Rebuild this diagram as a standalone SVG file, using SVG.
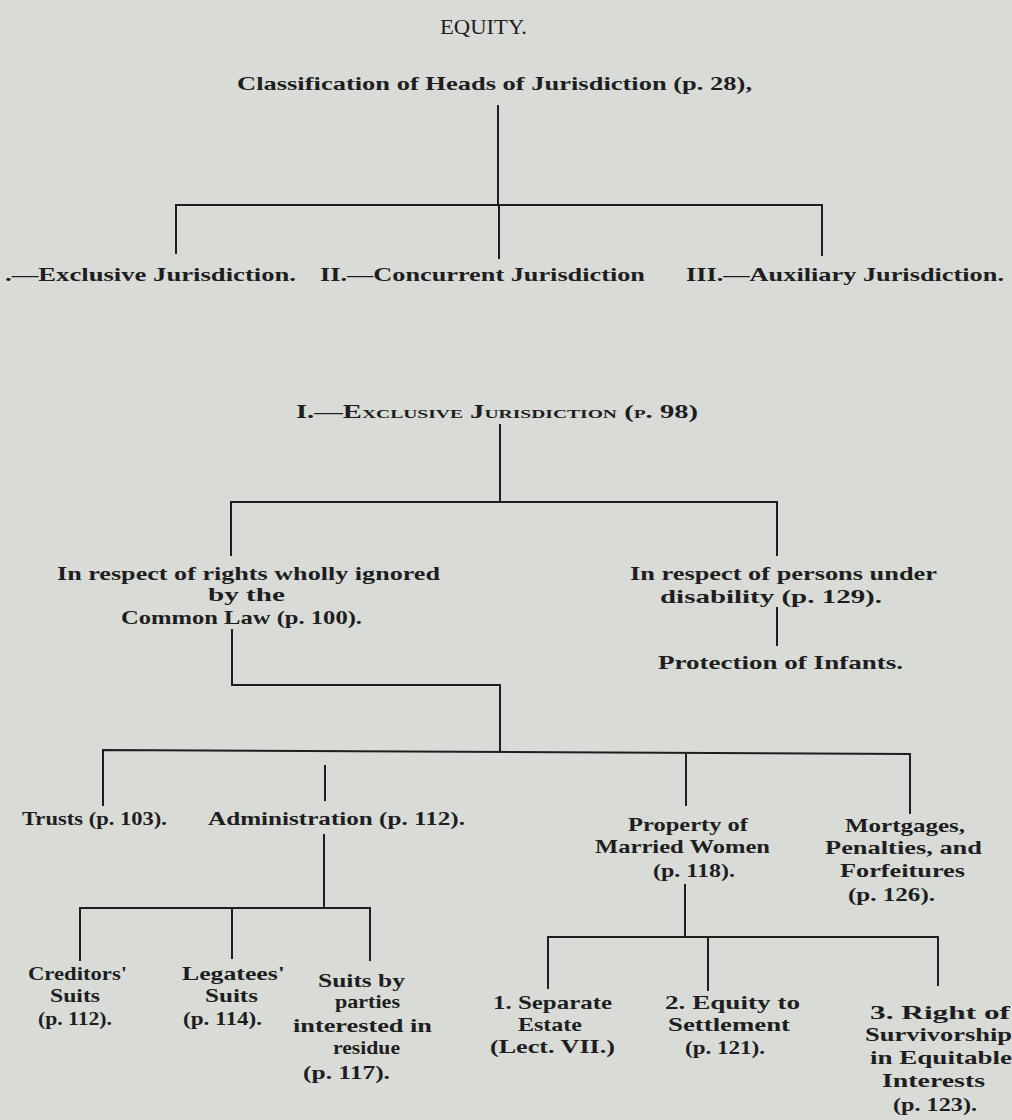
<svg xmlns="http://www.w3.org/2000/svg" width="1012" height="1120" viewBox="0 0 1012 1120">
<style>
.t{font-family:"Liberation Serif","Times New Roman",serif;font-weight:bold;font-size:19px;fill:#1d1d22}
.sc{font-variant:small-caps}
.c{fill:none;stroke:#1d1d22;stroke-width:2;stroke-linecap:square}
</style>
<rect width="1012" height="1120" fill="#d9dcd6"/>
<g id="connectors">
<path class="c" d="M498 106V205M176 253V205H822V255M499 205V258"/>
<path class="c" d="M500 425V502M231 555V502H777V555"/>
<path class="c" d="M777 608V645"/>
<path class="c" d="M232 630V685H500V751"/>
<path class="c" d="M103 805V750L910 754V813M325 766V800M686 754V805"/>
<path class="c" d="M324 835V907M80 960V908H370V960M232 910V958"/>
<path class="c" d="M685 885V937M548 988V937H938V985M708 937V990"/>
</g>
<g id="title"><text class="t" x="440" y="34" textLength="87" lengthAdjust="spacingAndGlyphs" style="font-weight:normal;font-size:20px">EQUITY.</text></g>
<g id="root"><text class="t" x="237" y="90" textLength="515" lengthAdjust="spacingAndGlyphs">Classification of Heads of Jurisdiction (p. 28),</text></g>
<g id="n-exclusive"><text class="t" x="5" y="281" textLength="291" lengthAdjust="spacingAndGlyphs">.—Exclusive Jurisdiction.</text></g>
<g id="n-concurrent"><text class="t" x="320" y="281" textLength="325" lengthAdjust="spacingAndGlyphs">II.—Concurrent Jurisdiction</text></g>
<g id="n-auxiliary"><text class="t" x="686" y="281" textLength="318" lengthAdjust="spacingAndGlyphs">III.—Auxiliary Jurisdiction.</text></g>
<g id="n-exclusive2"><text class="t sc" x="296" y="418" textLength="402" lengthAdjust="spacingAndGlyphs">I.—Exclusive Jurisdiction (p. 98)</text></g>
<g id="n-rights">
<text class="t" x="57" y="580" textLength="383" lengthAdjust="spacingAndGlyphs">In respect of rights wholly ignored</text>
<text class="t" x="208" y="601" textLength="77" lengthAdjust="spacingAndGlyphs">by the</text>
<text class="t" x="121" y="624" textLength="241" lengthAdjust="spacingAndGlyphs">Common Law (p. 100).</text>
</g>
<g id="n-persons">
<text class="t" x="630" y="580" textLength="307" lengthAdjust="spacingAndGlyphs">In respect of persons under</text>
<text class="t" x="660" y="603" textLength="222" lengthAdjust="spacingAndGlyphs">disability (p. 129).</text>
</g>
<g id="n-infants"><text class="t" x="658" y="669" textLength="245" lengthAdjust="spacingAndGlyphs">Protection of Infants.</text></g>
<g id="n-trusts"><text class="t" x="22" y="825" textLength="145" lengthAdjust="spacingAndGlyphs">Trusts (p. 103).</text></g>
<g id="n-admin"><text class="t" x="208" y="825" textLength="257" lengthAdjust="spacingAndGlyphs">Administration (p. 112).</text></g>
<g id="n-married">
<text class="t" x="628" y="831" textLength="120" lengthAdjust="spacingAndGlyphs">Property of</text>
<text class="t" x="595" y="853" textLength="175" lengthAdjust="spacingAndGlyphs">Married Women</text>
<text class="t" x="653" y="877" textLength="82" lengthAdjust="spacingAndGlyphs">(p. 118).</text>
</g>
<g id="n-mortgages">
<text class="t" x="845" y="832" textLength="120" lengthAdjust="spacingAndGlyphs">Mortgages,</text>
<text class="t" x="825" y="854" textLength="157" lengthAdjust="spacingAndGlyphs">Penalties, and</text>
<text class="t" x="840" y="877" textLength="125" lengthAdjust="spacingAndGlyphs">Forfeitures</text>
<text class="t" x="848" y="901" textLength="87" lengthAdjust="spacingAndGlyphs">(p. 126).</text>
</g>
<g id="n-creditors">
<text class="t" x="28" y="980" textLength="99" lengthAdjust="spacingAndGlyphs">Creditors'</text>
<text class="t" x="50" y="1002" textLength="50" lengthAdjust="spacingAndGlyphs">Suits</text>
<text class="t" x="38" y="1025" textLength="74" lengthAdjust="spacingAndGlyphs">(p. 112).</text>
</g>
<g id="n-legatees">
<text class="t" x="182" y="980" textLength="103" lengthAdjust="spacingAndGlyphs">Legatees'</text>
<text class="t" x="205" y="1002" textLength="53" lengthAdjust="spacingAndGlyphs">Suits</text>
<text class="t" x="183" y="1025" textLength="79" lengthAdjust="spacingAndGlyphs">(p. 114).</text>
</g>
<g id="n-residue">
<text class="t" x="318" y="987" textLength="87" lengthAdjust="spacingAndGlyphs">Suits by</text>
<text class="t" x="335" y="1008" textLength="65" lengthAdjust="spacingAndGlyphs">parties</text>
<text class="t" x="293" y="1032" textLength="139" lengthAdjust="spacingAndGlyphs">interested in</text>
<text class="t" x="333" y="1054" textLength="67" lengthAdjust="spacingAndGlyphs">residue</text>
<text class="t" x="303" y="1079" textLength="87" lengthAdjust="spacingAndGlyphs">(p. 117).</text>
</g>
<g id="n-separate">
<text class="t" x="493" y="1009" textLength="119" lengthAdjust="spacingAndGlyphs">1. Separate</text>
<text class="t" x="518" y="1031" textLength="64" lengthAdjust="spacingAndGlyphs">Estate</text>
<text class="t" x="490" y="1053" textLength="125" lengthAdjust="spacingAndGlyphs">(Lect. VII.)</text>
</g>
<g id="n-equity">
<text class="t" x="665" y="1009" textLength="135" lengthAdjust="spacingAndGlyphs">2. Equity to</text>
<text class="t" x="668" y="1031" textLength="122" lengthAdjust="spacingAndGlyphs">Settlement</text>
<text class="t" x="685" y="1054" textLength="80" lengthAdjust="spacingAndGlyphs">(p. 121).</text>
</g>
<g id="n-survivorship">
<text class="t" x="870" y="1019" textLength="140" lengthAdjust="spacingAndGlyphs">3. Right of</text>
<text class="t" x="865" y="1041" textLength="147" lengthAdjust="spacingAndGlyphs">Survivorship</text>
<text class="t" x="870" y="1064" textLength="142" lengthAdjust="spacingAndGlyphs">in Equitable</text>
<text class="t" x="882" y="1087" textLength="103" lengthAdjust="spacingAndGlyphs">Interests</text>
<text class="t" x="893" y="1111" textLength="84" lengthAdjust="spacingAndGlyphs">(p. 123).</text>
</g>
</svg>
